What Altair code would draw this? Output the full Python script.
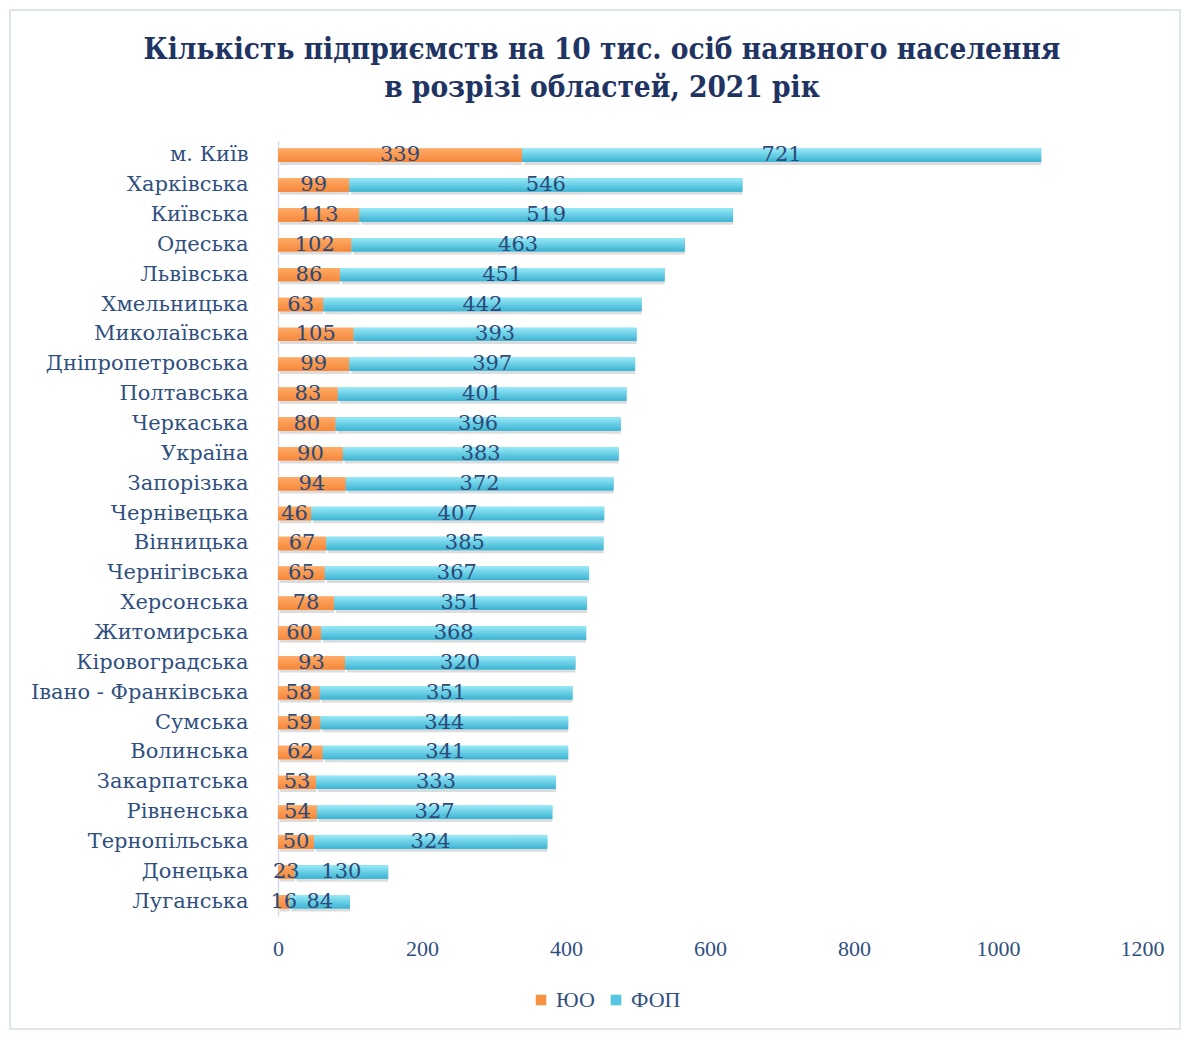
import altair as alt
import pandas as pd

regions = ["м. Київ", "Харківська", "Київська", "Одеська", "Львівська", "Хмельницька",
           "Миколаївська", "Дніпропетровська", "Полтавська", "Черкаська", "Україна",
           "Запорізька", "Чернівецька", "Вінницька", "Чернігівська", "Херсонська",
           "Житомирська", "Кіровоградська", "Івано - Франківська", "Сумська", "Волинська",
           "Закарпатська", "Рівненська", "Тернопільська", "Донецька", "Луганська"]
yuo = [339, 99, 113, 102, 86, 63, 105, 99, 83, 80, 90, 94, 46, 67, 65, 78, 60, 93, 58, 59, 62, 53, 54, 50, 23, 16]
fop = [721, 546, 519, 463, 451, 442, 393, 397, 401, 396, 383, 372, 407, 385, 367, 351, 368, 320, 351, 344, 341, 333, 327, 324, 130, 84]
series = ["ЮО", "ФОП"]
ticks = [0, 200, 400, 600, 800, 1000, 1200]

rows = []
for r, a, b in zip(regions, yuo, fop):
    rows.append({"region": r, "series": "ЮО", "value": a, "start": 0, "end": a, "mid": a / 2})
    rows.append({"region": r, "series": "ФОП", "value": b, "start": a, "end": a + b, "mid": a + b / 2})
df = pd.DataFrame(rows)

FONT = "DejaVu Serif"
NARROW = "Liberation Serif"
TXT = "#2f4f7f"

y_enc = alt.Y("region:N", sort=regions, title=None,
              scale=alt.Scale(paddingInner=0.55, paddingOuter=0.25),
              axis=alt.Axis(labelFont=FONT, labelFontSize=21, labelColor=TXT, ticks=False,
                            domainColor="#d3dbe6", domainWidth=1.5, labelPadding=30, labelLimit=400))
x_enc = alt.X("start:Q", title=None,
              scale=alt.Scale(domain=[0, 1200], nice=False),
              axis=alt.Axis(values=ticks, format="d", grid=False, domain=False, ticks=False,
                            labelFont=NARROW, labelFontSize=22, labelColor=TXT, labelPadding=22,
                            labelFlush=False))

base = alt.Chart(df)

shadow = base.mark_bar(color="#9a9a9a", opacity=0.35, yOffset=3, xOffset=2).encode(
    y=y_enc, x=x_enc, x2="end:Q")

flat = base.mark_bar().encode(
    y=y_enc, x=x_enc, x2="end:Q",
    color=alt.Color("series:N", sort=series,
                    scale=alt.Scale(domain=series, range=["#f99344", "#55c6e2"]),
                    legend=alt.Legend(title=None, orient="none", legendX=252, legendY=848,
                                      direction="horizontal", symbolType="square", symbolSize=110,
                                      labelFont=NARROW, labelFontSize=22, labelColor=TXT,
                                      columnPadding=10, labelOffset=4, symbolStrokeWidth=0)))

grad_or = alt.Gradient(gradient="linear", x1=0, x2=0, y1=0, y2=1,
                       stops=[alt.GradientStop(color="#ffab66", offset=0),
                              alt.GradientStop(color="#f5873a", offset=1)])
grad_bl = alt.Gradient(gradient="linear", x1=0, x2=0, y1=0, y2=1,
                       stops=[alt.GradientStop(color="#98e9f7", offset=0),
                              alt.GradientStop(color="#3bb3d3", offset=1)])

bar_or = base.transform_filter(alt.datum.series == "ЮО").mark_bar(color=grad_or).encode(
    y=y_enc, x=x_enc, x2="end:Q")
bar_bl = base.transform_filter(alt.datum.series == "ФОП").mark_bar(color=grad_bl).encode(
    y=y_enc, x=x_enc, x2="end:Q")

labels = base.mark_text(font=FONT, fontSize=21, color="#2c4a78", baseline="middle", align="center").encode(
    y=y_enc, x=alt.X("mid:Q"), text="value:Q")

border = alt.Chart(pd.DataFrame({"a": [0]})).mark_rect(fill="transparent", stroke="#d5dde8", strokeWidth=1.5).encode(
    x=alt.value(-268), x2=alt.value(902), y=alt.value(-131), y2=alt.value(888))

chart = alt.layer(border, shadow, flat, bar_or, bar_bl, labels).properties(
    width=864, height=775,
    background="white",
    autosize=alt.AutoSizeParams(type="none"),
    padding={"left": 270, "top": 133, "right": 47, "bottom": 115},
    title=alt.TitleParams(["Кількість підприємств на 10 тис. осіб наявного населення",
                           "в розрізі областей, 2021 рік"],
                          font="DejaVu Serif Condensed", fontSize=29.5, fontWeight="bold",
                          color="#1f3462", lineHeight=38, anchor="middle", offset=-94, dx=-108),
).configure_view(strokeWidth=0)

chart.save("out.html", embed_options={"renderer": "svg", "actions": False})
